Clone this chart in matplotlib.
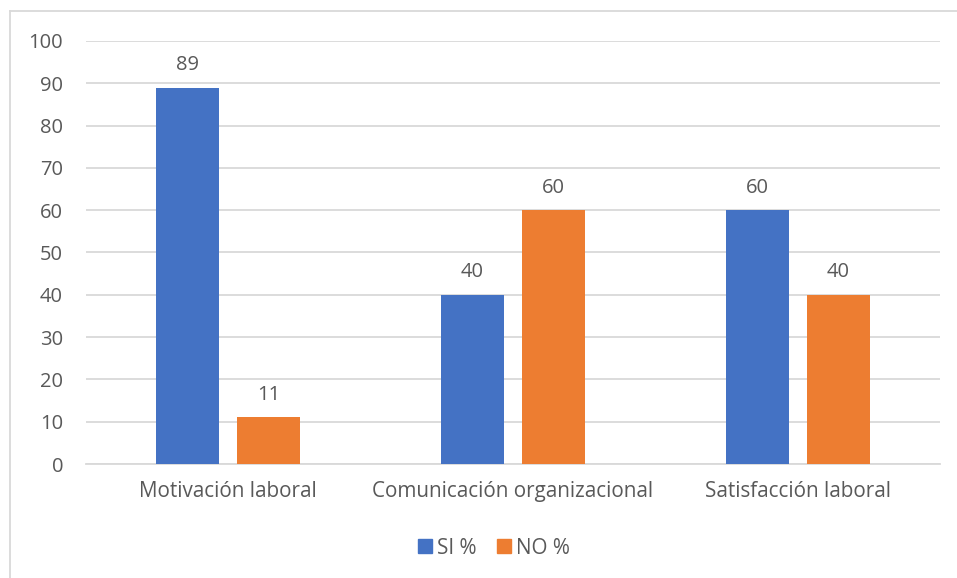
import matplotlib
matplotlib.use("Agg")
import matplotlib.pyplot as plt
from matplotlib.lines import Line2D
from matplotlib.patches import Patch
import numpy as np

categories = ["Motivación laboral", "Comunicación organizacional", "Satisfacción laboral"]
si_values = [89, 40, 60]
no_values = [11, 60, 40]
series_names = ["SI %", "NO %"]
y_ticks = [0, 10, 20, 30, 40, 50, 60, 70, 80, 90, 100]

BLUE = "#4472C4"
ORANGE = "#ED7D31"
GRID = "#D9D9D9"
TEXT = "#595959"
FS = 14.5
FS_CAT = 14.9

plt.rcParams['font.family'] = ['Open Sans', 'DejaVu Sans']

W, H = 957, 578
fig = plt.figure(figsize=(W / 100, H / 100), dpi=100)
ax = fig.add_axes([86 / W, 1 - 464 / H, (940 - 86) / W, (464 - 41) / H])

x = np.arange(len(categories))
bw = 0.221
off = 0.142
b1 = ax.bar(x - off, si_values, bw, color=BLUE, label=series_names[0], zorder=3)
b2 = ax.bar(x + off, no_values, bw, color=ORANGE, label=series_names[1], zorder=3)

for bars, vals in ((b1, si_values), (b2, no_values)):
    for r, v in zip(bars, vals):
        ax.annotate(str(v), (r.get_x() + r.get_width() / 2, v), xytext=(0, 9),
                    textcoords="offset points", ha="center", va="bottom",
                    fontsize=FS, color=TEXT)

ax.set_xlim(-0.5, 2.5)
ax.set_ylim(0, 100)
ax.set_yticks(y_ticks)
ax.set_xticks(x)
ax.set_xticklabels(categories)
ax.yaxis.grid(True, color=GRID, linewidth=1.3, zorder=0)
ax.set_axisbelow(True)
for s in ["top", "right", "left"]:
    ax.spines[s].set_visible(False)
ax.spines["bottom"].set_color(GRID)
ax.spines["bottom"].set_linewidth(1.3)
ax.tick_params(axis="y", length=0, pad=16.5, labelsize=FS, labelcolor=TEXT)
ax.tick_params(axis="x", length=0, pad=12.5, labelsize=FS_CAT, labelcolor=TEXT)

handles = [Patch(color=BLUE), Patch(color=ORANGE)]
fig.legend(handles, series_names, loc="center", bbox_to_anchor=(494 / W, 1 - 548 / H),
           ncol=2, frameon=False, fontsize=FS_CAT, labelcolor=TEXT,
           handlelength=0.65, handleheight=0.65, handletextpad=0.25, columnspacing=1.0)

fig.add_artist(Line2D([10 / W, 1.0], [1 - 11 / H, 1 - 11 / H], transform=fig.transFigure,
                      color=GRID, linewidth=1.3))
fig.add_artist(Line2D([10 / W, 10 / W], [0.0, 1 - 11 / H], transform=fig.transFigure,
                      color=GRID, linewidth=1.3))

fig.savefig("out.png", dpi=100, facecolor="white")
